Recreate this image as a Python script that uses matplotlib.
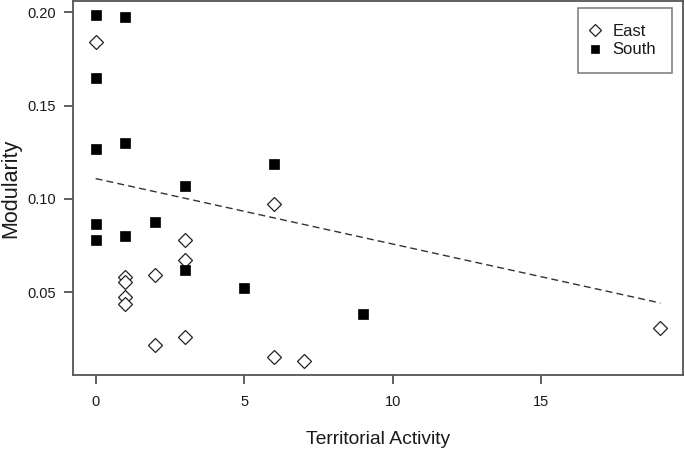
"""Modularity vs territorial activity for East and South groups, with a linear trend."""
import matplotlib
matplotlib.use("Agg")
import matplotlib.pyplot as plt
from matplotlib.transforms import blended_transform_factory

plt.rcParams["font.family"] = ["Liberation Sans", "DejaVu Sans"]

# East group (open diamonds)
east_x = [0, 1, 1, 1, 1, 2, 2, 3, 3, 3, 6, 6, 7, 19]
east_y = [0.184, 0.0584, 0.0554, 0.0472, 0.0439, 0.0590, 0.0217,
          0.0779, 0.0674, 0.0258, 0.0971, 0.0150, 0.0130, 0.0306]

# South group (filled squares)
south_x = [0, 0, 0, 0, 0, 1, 1, 1, 2, 3, 3, 5, 6, 9]
south_y = [0.1987, 0.1649, 0.1265, 0.0866, 0.0782, 0.1976, 0.1300,
           0.0800, 0.0877, 0.1071, 0.0618, 0.0522, 0.1189, 0.0381]

# fitted trend line endpoints
trend_x = [0, 19]
trend_y = [0.1109, 0.0442]

x_ticks = [0, 5, 10, 15]
y_ticks = [0.05, 0.10, 0.15, 0.20]
y_ticklabels = ["0.05", "0.10", "0.15", "0.20"]

spine_col = "#555555"
text_col = "#1a1a1a"

fig = plt.figure(figsize=(6.85, 4.5), dpi=100)
ax = fig.add_axes([73 / 685, 75 / 450, 610 / 685, 374 / 450])

ax.plot(trend_x, trend_y, color="#333333", linewidth=1.0, linestyle=(0, (5, 3)))
ax.plot(east_x, east_y, linestyle="none", marker="D", markersize=7.4,
        markerfacecolor="white", markeredgecolor="#222222", markeredgewidth=0.9,
        label="East")
ax.plot(south_x, south_y, linestyle="none", marker="s", markersize=6.8,
        markerfacecolor="black", markeredgecolor="black", markeredgewidth=0.5,
        label="South")

ax.set_xlim(-0.76, 19.76)
ax.set_ylim(0.0056, 0.2061)
ax.set_xticks(x_ticks)
ax.set_yticks(y_ticks)
ax.set_yticklabels(y_ticklabels)

for s in ax.spines.values():
    s.set_color(spine_col)
    s.set_linewidth(1.3)
# tick marks drawn by hand below (R-style outward ticks), labels from the axis
ax.tick_params(axis="both", which="major", length=0, labelsize=10.5, labelcolor=text_col)
ax.tick_params(axis="x", pad=14.5)
ax.tick_params(axis="y", pad=12.3)

tick_px = 9
xt = blended_transform_factory(ax.transData, ax.transAxes)
yt = blended_transform_factory(ax.transAxes, ax.transData)
for v in x_ticks:
    ax.plot([v, v], [0, -tick_px / 374], transform=xt, color=spine_col,
            linewidth=1.3, clip_on=False, solid_capstyle="butt")
for v in y_ticks:
    ax.plot([0, -tick_px / 610], [v, v], transform=yt, color=spine_col,
            linewidth=1.3, clip_on=False, solid_capstyle="butt")

ax.set_xlabel("Territorial Activity", fontsize=13.9, color=text_col, va="center")
ax.xaxis.set_label_coords(0.5, (375 - 439) / 374)
ax.set_ylabel("Modularity", fontsize=15.5, color=text_col, va="center")
ax.yaxis.set_label_coords((11 - 73) / 610, 0.5)

leg = ax.legend(loc="upper right", bbox_to_anchor=((672 - 73) / 610, (375 - 8) / 374),
                bbox_transform=ax.transAxes, borderaxespad=0,
                fontsize=12, frameon=True, fancybox=False, borderpad=0.95,
                handletextpad=0.95, handlelength=0.2, labelspacing=0.22, markerscale=0.85)
leg.get_frame().set_edgecolor(spine_col)
leg.get_frame().set_linewidth(1.1)
for t in leg.get_texts():
    t.set_color(text_col)

fig.savefig("out.png", dpi=100)
